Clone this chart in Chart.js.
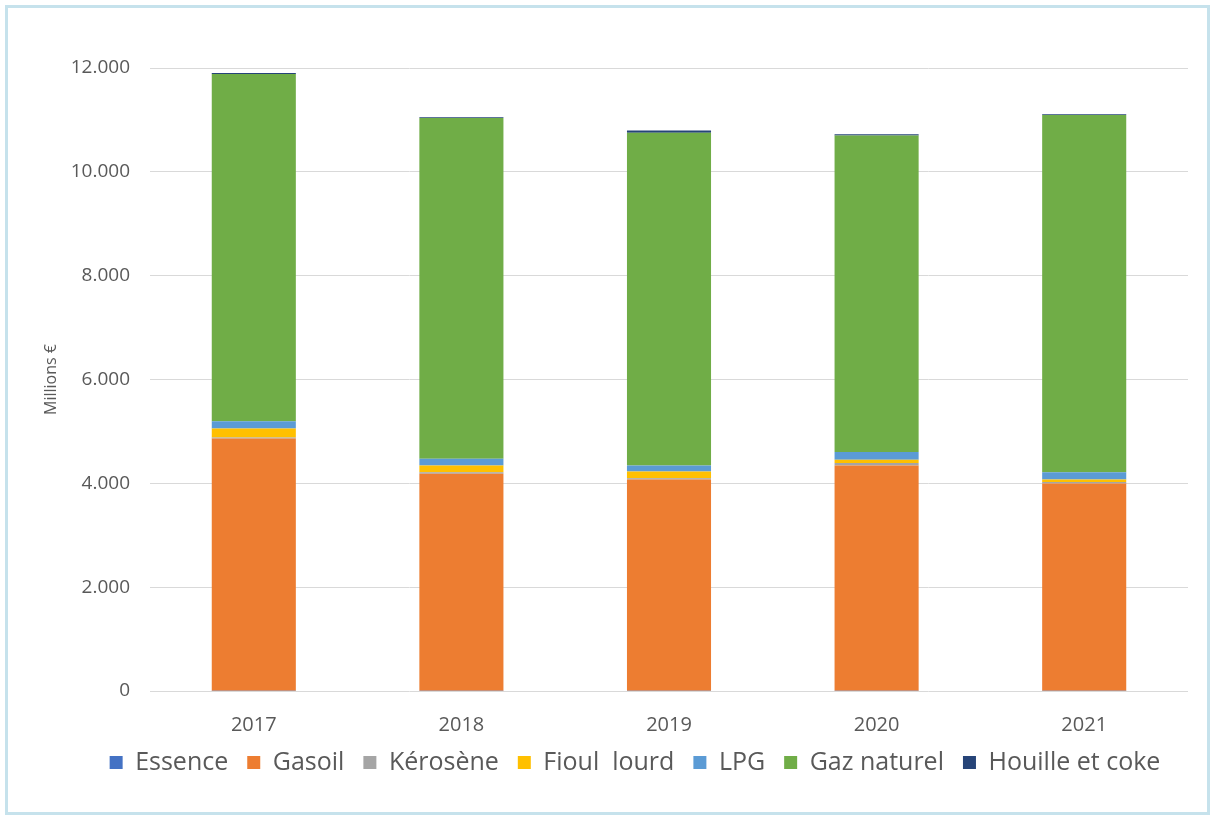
<!DOCTYPE html>
<html>
<head>
<meta charset="utf-8">
<script src="https://cdn.jsdelivr.net/npm/chart.js@4/dist/chart.umd.min.js"></script>
<style>
  html, body { margin: 0; padding: 0; background: #fff; }
  #frame {
    position: absolute; left: 5px; top: 5px;
    width: 1199px; height: 804px;
    border: 3px solid #c6e2ec;
  }
  canvas { display: block; }
</style>
</head>
<body>
<div id="frame"><canvas id="chart" width="1199" height="804"></canvas></div>
<script>
// Données (millions €)
const years = ['2017', '2018', '2019', '2020', '2021'];
const essence = [5, 5, 5, 5, 5];
const gasoil = [4860, 4180, 4070, 4340, 3990];
const kerosene = [20, 30, 25, 45, 30];
const fioulLourd = [170, 130, 130, 65, 50];
const lpg = [140, 130, 115, 147, 140];
const gazNaturel = [6690, 6560, 6410, 6100, 6880];
const houille = [20, 15, 40, 20, 15];
const yTicks = [0, 2000, 4000, 6000, 8000, 10000, 12000];

const FONT = '"Open Sans"';
const GREY_TXT = '#595959';
const LEGEND_TRIM = 14;

function ds(label, data, color) {
  return {
    label: label,
    data: data,
    backgroundColor: color,
    borderWidth: 0,
    categoryPercentage: 1,
    barPercentage: 0.405
  };
}

const fmt = v => String(v).replace(/\B(?=(\d{3})+(?!\d))/g, '.');

// légende plus compacte en hauteur et décalée à droite (comme dans Excel)
const legendTweak = {
  id: 'legendTweak',
  beforeLayout(chart) {
    const lg = chart.legend;
    if (lg && !lg._tweaked) {
      const origFit = lg.fit.bind(lg);
      lg.fit = function () {
        origFit();
        this.height -= LEGEND_TRIM;
      };
      const origDraw = lg.draw.bind(lg);
      lg.draw = function () {
        chart.ctx.save();
        chart.ctx.translate(22, -LEGEND_TRIM);
        origDraw();
        chart.ctx.restore();
      };
      lg._tweaked = true;
    }
  }
};

new Chart(document.getElementById('chart').getContext('2d'), {
  type: 'bar',
  data: {
    labels: years,
    datasets: [
      ds('Essence', essence, '#4472C4'),
      ds('Gasoil', gasoil, '#ED7D31'),
      ds('Kérosène', kerosene, '#A5A5A5'),
      ds('Fioul  lourd', fioulLourd, '#FFC000'),
      ds('LPG', lpg, '#5B9BD5'),
      ds('Gaz naturel', gazNaturel, '#70AD47'),
      ds('Houille et coke', houille, '#264478')
    ]
  },
  plugins: [legendTweak],
  options: {
    responsive: false,
    animation: false,
    layout: { padding: { left: 30, right: 19, top: 60, bottom: 27 } },
    scales: {
      x: {
        stacked: true,
        grid: { display: false, drawTicks: false },
        border: { display: false },
        afterFit: axis => { axis.height = 54; },
        ticks: { color: GREY_TXT, font: { family: FONT, size: 20, lineHeight: 1.0 }, padding: 24 }
      },
      y: {
        stacked: true,
        min: 0,
        max: 12000,
        afterBuildTicks: axis => { axis.ticks = yTicks.map(v => ({ value: v })); },
        afterFit: axis => { axis.width = 112; },
        grid: { color: '#d9d9d9', lineWidth: 1, drawTicks: false },
        border: { display: false },
        ticks: {
          color: GREY_TXT,
          font: { family: FONT, size: 19 },
          padding: 20,
          callback: v => fmt(v)
        },
        title: {
          display: true,
          text: 'Millions €',
          color: GREY_TXT,
          font: { family: FONT, size: 16 },
          padding: { top: 4, bottom: 0 }
        }
      }
    },
    plugins: {
      tooltip: { enabled: false },
      legend: {
        position: 'bottom',
        labels: {
          color: GREY_TXT,
          font: { family: FONT, size: 25 },
          boxWidth: 13,
          boxHeight: 13,
          padding: 19
        }
      }
    }
  }
});
</script>
</body>
</html>
